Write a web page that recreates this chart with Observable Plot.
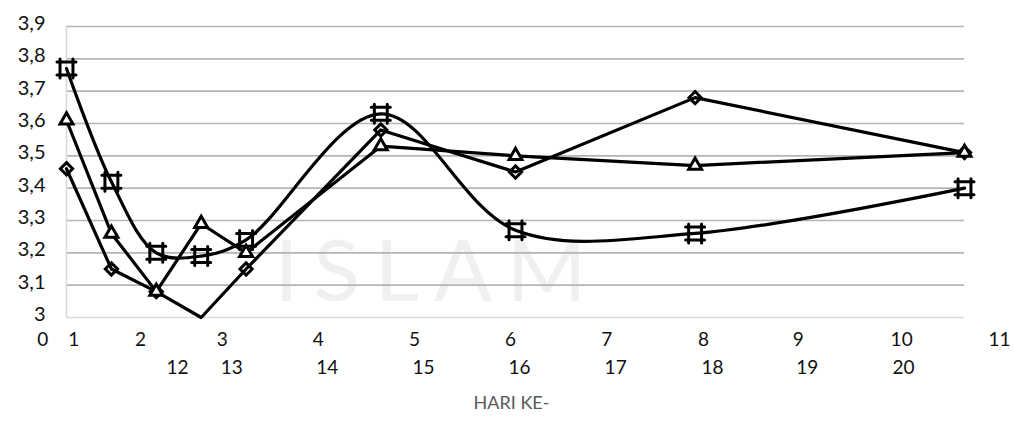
<!DOCTYPE html>
<html>
<head>
<meta charset="utf-8">
<script src="https://cdn.jsdelivr.net/npm/d3@7"></script>
<script src="https://cdn.jsdelivr.net/npm/@observablehq/plot@0.6"></script>
<style>
  html, body { margin: 0; padding: 0; background: #fff; }
</style>
</head>
<body>
<div id="chart"></div>
<script>
// ---- data ----
const days = [0, 1, 2, 3, 4, 7, 10, 14, 20];
const seriesHash     = [3.77, 3.42, 3.20, 3.19, 3.24, 3.63, 3.27, 3.26, 3.40];
const seriesTriangle = [3.61, 3.26, 3.08, 3.29, 3.20, 3.53, 3.50, 3.47, 3.51];
const seriesDiamond  = [3.46, 3.15, 3.08, 3.00, 3.15, 3.58, 3.45, 3.68, 3.51];

const yTicks      = [3, 3.1, 3.2, 3.3, 3.4, 3.5, 3.6, 3.7, 3.8, 3.9];
const yTickLabels = ["3", "3,1", "3,2", "3,3", "3,4", "3,5", "3,6", "3,7", "3,8", "3,9"];

// x-axis label rows (position given in day units along the x scale)
const xRow1Labels = ["0", "1", "2", "3", "4", "5", "6", "7", "8", "9", "10", "11"];
const xRow1At     = [-0.53, 0.16, 1.65, 3.47, 5.61, 7.75, 9.89, 12.03, 14.19, 16.30, 18.60, 20.78];
const xRow2Labels = ["12", "13", "14", "15", "16", "17", "18", "19", "20"];
const xRow2At     = [2.47, 3.68, 5.81, 7.95, 10.09, 12.23, 14.39, 16.50, 18.64];
const xTitle = "HARI KE-";
const watermark = "ISLAM";

// ---- tables ----
const rows = (vals, name) => days.map((d, i) => ({day: d, v: vals[i], s: name}));
const hashRows = rows(seriesHash, "hash");
const triRows  = rows(seriesTriangle, "triangle");
const diaRows  = rows(seriesDiamond, "diamond");

// "#"-shaped marker (square with extended edges)
const hashSymbol = {
  draw(ctx, size) {
    const s = Math.sqrt(size / Math.PI);
    const a = s * 0.68;
    ctx.moveTo(-a, -s); ctx.lineTo(-a, s);
    ctx.moveTo(a, -s);  ctx.lineTo(a, s);
    ctx.moveTo(-s, -a); ctx.lineTo(s, -a);
    ctx.moveTo(-s, a);  ctx.lineTo(s, a);
  }
};

const font = "Lato, 'Open Sans', sans-serif";

const chart = Plot.plot({
  width: 1015,
  height: 421,
  marginTop: 26,
  marginBottom: 104,
  marginLeft: 66,
  marginRight: 51,
  style: {fontFamily: font, background: "#fff", color: "#000"},
  x: {domain: [0, 20], axis: null},
  y: {domain: [3, 3.9], axis: null},
  marks: [
    Plot.text([watermark], {
      text: d => d, frameAnchor: "middle", dx: -85, dy: 101,
      fontSize: 86, fontWeight: 400, fill: "#f0f0f0"
    }),
    Plot.gridY(yTicks.slice(1), {stroke: "#b5b5b5", strokeOpacity: 1, strokeWidth: 1.6}),
    Plot.ruleY([yTicks[0]], {stroke: "#d9d9d9", strokeWidth: 1.6}),
    Plot.ruleX([0], {stroke: "#d9d9d9", strokeWidth: 1.6}),
    Plot.axisY(yTicks, {
      tickFormat: d => yTickLabels[yTicks.indexOf(d)],
      label: null,
      tickSize: 0, tickPadding: 21, fontSize: 20, dy: -3, fill: "#111"
    }),
    Plot.text(xRow1Labels, {x: (d, i) => xRow1At[i], text: d => d, frameAnchor: "bottom", dy: 28, fontSize: 19, fill: "#111"}),
    Plot.text(xRow2Labels, {x: (d, i) => xRow2At[i], text: d => d, frameAnchor: "bottom", dy: 56, fontSize: 19, fill: "#111"}),
    Plot.text([xTitle], {text: d => d, frameAnchor: "bottom", dx: -4, dy: 91, fontSize: 18, fill: "#595959"}),

    Plot.line(diaRows,  {x: "day", y: "v", stroke: "#000", strokeWidth: 3.2, curve: "linear"}),
    Plot.line(triRows,  {x: "day", y: "v", stroke: "#000", strokeWidth: 3.2, curve: "linear"}),
    Plot.line(hashRows, {x: "day", y: "v", stroke: "#000", strokeWidth: 3.2, curve: "catmull-rom"}),

    Plot.dot(diaRows.filter(d => d.v > yTicks[0]), {
      x: "day", y: "v", symbol: "diamond2", r: 5.5, fill: "none", stroke: "#000", strokeWidth: 3
    }),
    Plot.dot(triRows, {
      x: "day", y: "v", symbol: "triangle", r: 4.8, fill: "#fff", stroke: "#000", strokeWidth: 3
    }),
    Plot.dot(hashRows, {
      x: "day", y: "v", symbol: hashSymbol, r: 9.5, fill: "none", stroke: "#000", strokeWidth: 3, strokeLinecap: "round"
    })
  ]
});

document.getElementById("chart").appendChild(chart);
// stretch the watermark to its width in the reference
chart.querySelectorAll("text").forEach(t => {
  if (t.textContent === watermark) {
    t.setAttribute("textLength", 312);
    t.setAttribute("lengthAdjust", "spacing");
  }
});
</script>
</body>
</html>
